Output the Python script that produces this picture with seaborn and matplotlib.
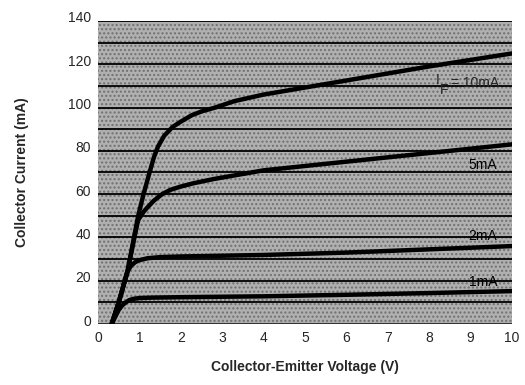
import numpy as np
import pandas as pd
import matplotlib
matplotlib.use('Agg')
import matplotlib.pyplot as plt
from matplotlib.transforms import ScaledTranslation
import seaborn as sns

# collector curves
vce_1ma = [0.33, 0.42, 0.5, 0.58, 0.65, 0.75, 0.85, 1.0, 1.3, 2.0, 4.0, 6.0, 8.0, 10.0]
ic_1ma = [0, 3.5, 6.5, 8.5, 9.7, 11, 11.6, 12, 12.2, 12.4, 12.8, 13.5, 14.3, 15.2]

vce_2ma = [0.33, 0.5, 0.65, 0.72, 0.8, 0.9, 1.0, 1.2, 1.5, 2.0, 4.0, 6.0, 8.0, 10.0]
ic_2ma = [0, 10, 20, 24.5, 27, 28.6, 29.5, 30.4, 30.9, 31.2, 31.9, 33, 34.5, 36]

vce_5ma = [0.33, 0.5, 0.72, 0.9, 0.97, 1.1, 1.2, 1.35, 1.55, 1.75, 2.0, 2.3, 2.8, 4.0, 6.0, 8.0, 10.0]
ic_5ma = [0, 10, 25, 42, 48, 51.8, 54, 57, 60, 62, 63.5, 65, 67, 71, 75, 79, 83]

vce_10ma = [0.33, 0.5, 0.72, 0.97, 1.1, 1.26, 1.35, 1.45, 1.6, 1.8, 2.0, 2.27, 2.5, 2.83, 3.3, 4.0, 6.0, 8.0, 10.0]
ic_10ma = [0, 10, 25, 50, 60, 71, 77, 82, 87, 91, 93.5, 96.5, 98.2, 100, 103, 106, 112.5, 119, 125]

curve_names = ['1mA', '2mA', '5mA', '10mA']
curve_labels = ['1mA', '2mA', '5mA']
label_x = [9.65, 9.65, 9.65]
label_y = [19.5, 40.5, 73.5]

x_ticks = list(range(0, 11))
y_ticks = list(range(0, 141, 20))

frames = []
for name, xs, ys in zip(curve_names, [vce_1ma, vce_2ma, vce_5ma, vce_10ma],
                        [ic_1ma, ic_2ma, ic_5ma, ic_10ma]):
    frames.append(pd.DataFrame({'vce': xs, 'ic': ys, 'curve': name}))
df = pd.concat(frames, ignore_index=True)

sns.set_style('white')
plt.rcParams['font.family'] = ['Liberation Sans', 'DejaVu Sans']

fig = plt.figure(figsize=(5.25, 3.85), dpi=100)
ax = fig.add_axes([0.1867, 0.1584, 0.7883, 0.7871])
ax.set_facecolor('#b0b0b0')

# stipple-ish texture
ax.axhspan(0, 140, facecolor='none', edgecolor='#707070', hatch='....', lw=0, zorder=0)

for yv in range(10, 141, 10):
    ax.axhline(yv, color='black', lw=1.3, zorder=1)
ax.axhline(0, color='#333333', lw=2.2, zorder=1)

sns.lineplot(data=df, x='vce', y='ic', units='curve', estimator=None, sort=False,
             color='black', lw=3.2, ax=ax, legend=False, zorder=3)

for lab, lx, ly in zip(curve_labels, label_x, label_y):
    ax.text(lx, ly, lab, ha='right', va='center', fontsize=10, color='black', zorder=4)

# I_F = 10mA label, subscript dropped well below the I like the original
t_rest = ax.text(9.68, 111.5, '= 10mA', ha='right', va='center', fontsize=10, zorder=4)
t_f = ax.annotate('F', xy=(0, 0.5), xycoords=t_rest, xytext=(-1.5, -5),
                  textcoords='offset points', ha='right', va='center', fontsize=10, zorder=4)
ax.annotate('I', xy=(0, 0.5), xycoords=t_f, xytext=(0, 7),
            textcoords='offset points', ha='right', va='center', fontsize=10, zorder=4)

ax.set_xlim(0, 10)
ax.set_ylim(0, 140)
ax.set_xticks(x_ticks)
ax.set_yticks(y_ticks)
ax.tick_params(length=0, labelsize=10, pad=5)
for s in ax.spines.values():
    s.set_visible(False)

off = ScaledTranslation(0, 4 / 100, fig.dpi_scale_trans)
for t in ax.get_yticklabels():
    t.set_transform(t.get_transform() + off)

ax.set_xlabel('Collector-Emitter Voltage (V)', fontsize=10, fontweight='bold', labelpad=11)
ax.set_ylabel('Collector Current (mA)', fontsize=10, fontweight='bold', labelpad=28)

fig.savefig('out.png', dpi=100)
